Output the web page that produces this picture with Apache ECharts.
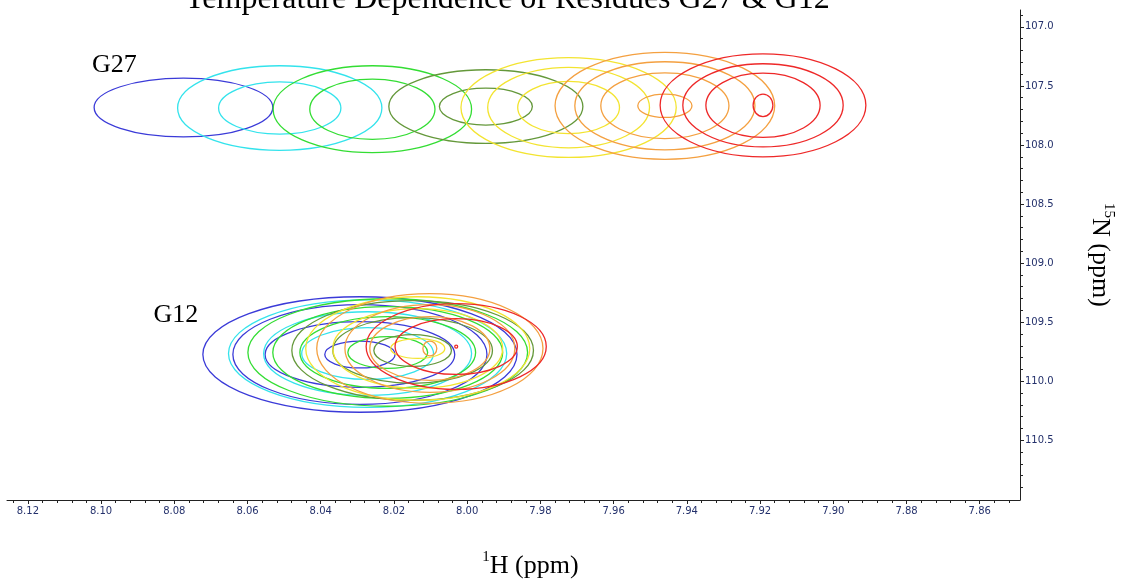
<!DOCTYPE html>
<html>
<head>
<meta charset="utf-8">
<script src="https://cdn.jsdelivr.net/npm/echarts@6/dist/echarts.min.js"></script>
<style>
  html, body {margin: 0; padding: 0; background: #fff;}
  #chart {width: 1125px; height: 584px;}
</style>
</head>
<body>
<div id="chart"></div>
<script>
// temperatures, coldest (blue) to hottest (red)
const temps = ['T1', 'T2', 'T3', 'T4', 'T5', 'T6', 'T7'];
const colors = ['#3a3ad8', '#33e3ec', '#33dd33', '#64983a', '#f3e430', '#f4a040', '#ee2828'];

// peak centres, 1H / 15N (ppm)
const g27H = [8.0775, 8.0512, 8.0259, 7.9949, 7.9723, 7.9460, 7.9192];
const g27N = [107.683, 107.687, 107.697, 107.675, 107.683, 107.668, 107.664];
const g12H = [8.0293, 8.0272, 8.0217, 8.0149, 8.0135, 8.0102, 8.0030];
const g12N = [109.774, 109.766, 109.757, 109.740, 109.723, 109.723, 109.707];

// contour half widths [dH, dN] per temperature
const g27Levels = [
  [[0.0244, 0.249]],
  [[0.0279, 0.358], [0.0167, 0.221]],
  [[0.0271, 0.368], [0.0171, 0.255]],
  [[0.0265, 0.312], [0.0127, 0.156]],
  [[0.0294, 0.422], [0.0221, 0.341], [0.0139, 0.221]],
  [[0.0300, 0.453], [0.0246, 0.373], [0.0175, 0.278], [0.0074, 0.099]],
  [[0.0281, 0.436], [0.0219, 0.352], [0.0156, 0.272], [0.0027, 0.095]]
];
const g12Levels = [
  [[0.0429, 0.489], [0.0347, 0.422], [0.0259, 0.278], [0.0096, 0.114]],
  [[0.0380, 0.455], [0.0284, 0.354], [0.0180, 0.219]],
  [[0.0382, 0.455], [0.0314, 0.388], [0.0240, 0.304], [0.0109, 0.135]],
  [[0.0330, 0.422], [0.0218, 0.278], [0.0106, 0.135]],
  [[0.0306, 0.438], [0.0232, 0.337], [0.0074, 0.084]],
  [[0.0309, 0.464], [0.0232, 0.371], [0.0164, 0.270], [0.0019, 0.063]],
  [[0.0246, 0.363], [0.0167, 0.236], [0.0004, 0.013]]
];

const residueNames = ['G27', 'G12'];
const residueLabelH = [8.0964, 8.0796];
const residueLabelN = [107.325, 109.437];

const xTicks = [8.12, 8.10, 8.08, 8.06, 8.04, 8.02, 8.00, 7.98, 7.96, 7.94, 7.92, 7.90, 7.88, 7.86];
const yTicks = [107.0, 107.5, 108.0, 108.5, 109.0, 109.5, 110.0, 110.5];

const xMin = 7.849, xMax = 8.1257;
const yMin = 106.857, yMax = 111.006;

// minor ticks: 5 per major step
function minorTicks(lo, hi, step, majorStep) {
  const out = [];
  const per = Math.round(majorStep / step);
  for (let k = Math.ceil(lo / step); k <= Math.floor(hi / step); k++) {
    if (k % per !== 0) out.push(+(k * step).toFixed(4));
  }
  return out;
}
const xMinor = minorTicks(xMin, xMax, 0.004, 0.02);
const yMinor = minorTicks(yMin, yMax, 0.1, 0.5);

const tickColor = '#222';
const labelColor = '#23306b';
const serif = '"Liberation Serif", "DejaVu Serif", serif';

const contourSeries = temps.map((t, i) => {
  const data = [];
  g27Levels[i].forEach(l => data.push([g27H[i], g27N[i], l[0], l[1]]));
  g12Levels[i].forEach(l => data.push([g12H[i], g12N[i], l[0], l[1]]));
  return {
    name: t,
    type: 'custom',
    xAxisIndex: 0,
    yAxisIndex: 0,
    encode: {x: 0, y: 1},
    data: data,
    silent: true,
    renderItem: function (params, api) {
      const c = api.coord([api.value(0), api.value(1)]);
      const s = api.size([api.value(2), api.value(3)], [api.value(0), api.value(1)]);
      return {
        type: 'ellipse',
        shape: {cx: c[0], cy: c[1], rx: Math.abs(s[0]), ry: Math.abs(s[1])},
        style: {fill: 'none', stroke: colors[i], lineWidth: 1.3}
      };
    }
  };
});

const labelSeries = {
  type: 'custom',
  xAxisIndex: 0,
  yAxisIndex: 0,
  encode: {x: 0, y: 1},
  data: residueNames.map((n, i) => [residueLabelH[i], residueLabelN[i], n]),
  silent: true,
  renderItem: function (params, api) {
    const c = api.coord([api.value(0), api.value(1)]);
    return {
      type: 'text',
      x: c[0],
      y: c[1],
      style: {
        text: residueNames[params.dataIndex],
        font: '26px ' + serif,
        fill: '#000',
        align: 'center',
        verticalAlign: 'middle'
      }
    };
  }
};

const chart = echarts.init(document.getElementById('chart'));
chart.setOption({
  animation: false,
  backgroundColor: '#fff',
  title: {
    text: 'Temperature Dependence of Residues G27 & G12',
    left: 180,
    top: -21,
    textStyle: {fontFamily: serif, fontSize: 32, fontWeight: 'normal', color: '#000'}
  },
  grid: {left: 7, right: 105, top: 10, bottom: 83, containLabel: false},
  xAxis: [
    {
      type: 'value',
      inverse: true,
      min: xMin,
      max: xMax,
      position: 'bottom',
      name: '{s|1}{m|H (ppm)}',
      nameLocation: 'middle',
      nameGap: 50,
      nameTextStyle: {
        padding: [0, 0, 0, 34],
        rich: {
          s: {fontFamily: serif, fontSize: 15, color: '#000', verticalAlign: 'top', lineHeight: 16},
          m: {fontFamily: serif, fontSize: 26, color: '#000', lineHeight: 32}
        }
      },
      axisLine: {show: true, lineStyle: {color: tickColor, width: 1}},
      axisTick: {show: true, length: 4, customValues: xTicks, lineStyle: {color: tickColor}},
      axisLabel: {
        customValues: xTicks,
        formatter: v => v.toFixed(2),
        color: labelColor,
        fontFamily: '"DejaVu Sans", Verdana, sans-serif',
        fontSize: 10,
        margin: 6
      },
      splitLine: {show: false}
    },
    {
      type: 'value',
      inverse: true,
      min: xMin,
      max: xMax,
      position: 'bottom',
      axisLine: {show: false},
      axisTick: {show: true, length: 3, customValues: xMinor, lineStyle: {color: tickColor}},
      axisLabel: {show: false},
      splitLine: {show: false}
    }
  ],
  yAxis: [
    {
      type: 'value',
      inverse: true,
      min: yMin,
      max: yMax,
      position: 'right',
      name: '{s|15}{m|N (ppm)}',
      nameLocation: 'middle',
      nameRotate: -90,
      nameGap: 64,
      nameTextStyle: {
        rich: {
          s: {fontFamily: serif, fontSize: 15, color: '#000', verticalAlign: 'top', lineHeight: 16},
          m: {fontFamily: serif, fontSize: 26, color: '#000', lineHeight: 32}
        }
      },
      axisLine: {show: true, lineStyle: {color: tickColor, width: 1}},
      axisTick: {show: true, length: 4, customValues: yTicks, lineStyle: {color: tickColor}},
      axisLabel: {
        customValues: yTicks,
        formatter: v => v.toFixed(1),
        color: labelColor,
        fontFamily: '"DejaVu Sans", Verdana, sans-serif',
        fontSize: 10,
        margin: 5
      },
      splitLine: {show: false}
    },
    {
      type: 'value',
      inverse: true,
      min: yMin,
      max: yMax,
      position: 'right',
      axisLine: {show: false},
      axisTick: {show: true, length: 3, customValues: yMinor, lineStyle: {color: tickColor}},
      axisLabel: {show: false},
      splitLine: {show: false}
    }
  ],
  series: contourSeries.concat([labelSeries])
});
</script>
</body>
</html>
